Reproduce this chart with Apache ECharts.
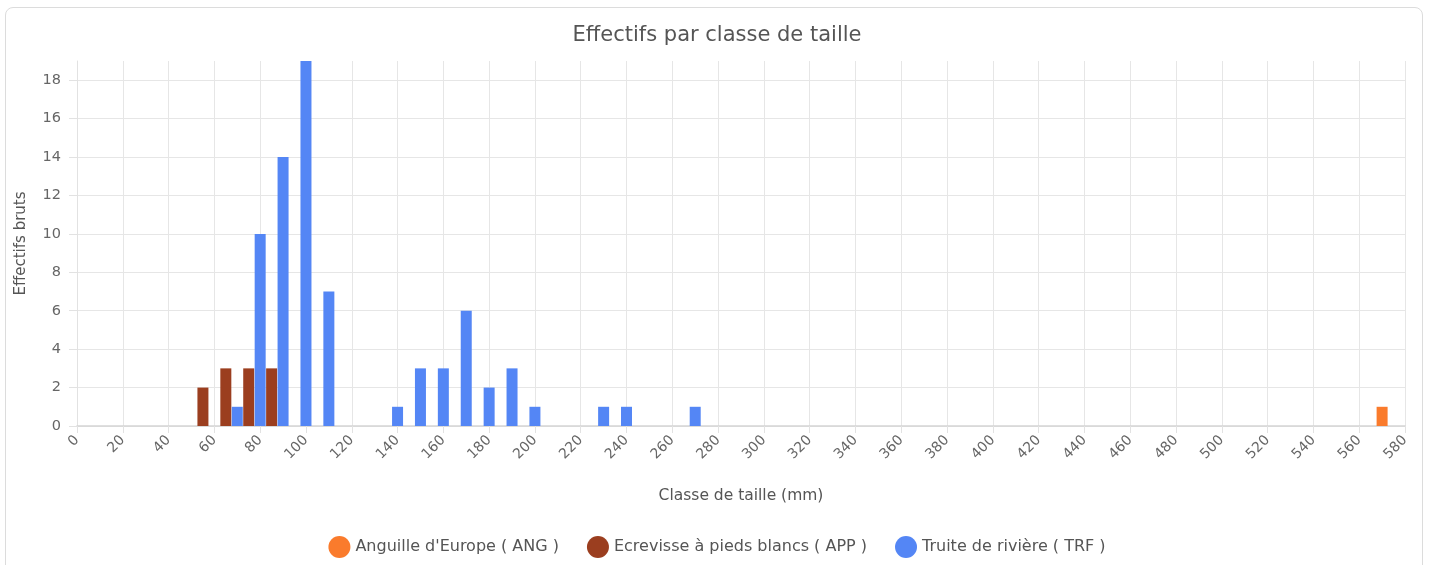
<!DOCTYPE html>
<html>
<head>
<meta charset="utf-8">
<script src="https://cdn.jsdelivr.net/npm/echarts@6/dist/echarts.min.js"></script>
<style>
  html, body { margin: 0; padding: 0; background: #fff; }
  #card { position: absolute; left: 5px; top: 7px; width: 1418px; height: 580px; border: 1px solid #dcdcdc; border-radius: 8px; box-sizing: border-box; }
  #chart { position: absolute; left: 0; top: 0; width: 1434px; height: 565px; }
</style>
</head>
<body>
<div id="card"></div>
<div id="chart"></div>
<script>
const seriesNames = ["Anguille d'Europe ( ANG )", "Ecrevisse à pieds blancs ( APP )", "Truite de rivière ( TRF )"];
const angClasses = [570];
const angCounts = [1];
const appClasses = [55, 65, 75, 85];
const appCounts = [2, 3, 3, 3];
const trfClasses = [70, 80, 90, 100, 110, 140, 150, 160, 170, 180, 190, 200, 230, 240, 270];
const trfCounts = [1, 10, 14, 19, 7, 1, 3, 3, 6, 2, 3, 1, 1, 1, 1];

const pair = (xs, ys) => xs.map((x, i) => [x, ys[i]]);
const FONT = "DejaVu Sans";
const colors = ['#FA7B2C', '#9B3E1F', '#5486F5'];

const chart = echarts.init(document.getElementById('chart'), null, { renderer: 'canvas' });
chart.setOption({
  animation: false,
  color: colors,
  textStyle: { fontFamily: FONT },
  title: {
    text: 'Effectifs par classe de taille',
    left: 'center', top: 20,
    textStyle: { fontFamily: FONT, fontSize: 21, fontWeight: 'normal', color: '#555' }
  },
  legend: {
    bottom: 2, left: 'center',
    icon: 'circle', itemWidth: 22, itemHeight: 22, itemGap: 28,
    textStyle: { fontFamily: FONT, fontSize: 16, color: '#555' },
    data: seriesNames
  },
  grid: { left: 77, right: 29, top: 61, bottom: 139 },
  xAxis: {
    type: 'value', min: 0, max: 580, interval: 20,
    name: 'Classe de taille (mm)', nameLocation: 'middle', nameGap: 62,
    nameTextStyle: { fontFamily: FONT, fontSize: 15.5, color: '#555' },
    axisLine: { show: true, lineStyle: { color: '#d5d5d5', width: 1.5 } },
    axisTick: { show: true, length: 7, lineStyle: { color: '#e2e2e2' } },
    axisLabel: { rotate: 45, fontSize: 14, color: '#666', margin: 12 },
    splitLine: { show: true, lineStyle: { color: '#e6e6e6' } }
  },
  yAxis: {
    type: 'value', min: 0, max: 19, interval: 2,
    name: 'Effectifs bruts', nameLocation: 'middle', nameGap: 48, nameRotate: 90,
    nameTextStyle: { fontFamily: FONT, fontSize: 15, color: '#555' },
    axisLine: { show: true, lineStyle: { color: '#e2e2e2' } },
    axisTick: { show: true, length: 8, lineStyle: { color: '#e2e2e2' } },
    axisLabel: { fontSize: 14.5, color: '#666', margin: 16, showMaxLabel: false },
    splitLine: { show: true, showMaxLine: false, lineStyle: { color: '#e6e6e6' } }
  },
  series: [
    { name: seriesNames[0], type: 'bar', barWidth: 11, barGap: '-100%', data: pair(angClasses, angCounts) },
    { name: seriesNames[1], type: 'bar', barWidth: 11, barGap: '-100%', data: pair(appClasses, appCounts) },
    { name: seriesNames[2], type: 'bar', barWidth: 11, barGap: '-100%', data: pair(trfClasses, trfCounts) }
  ]
});
</script>
</body>
</html>
